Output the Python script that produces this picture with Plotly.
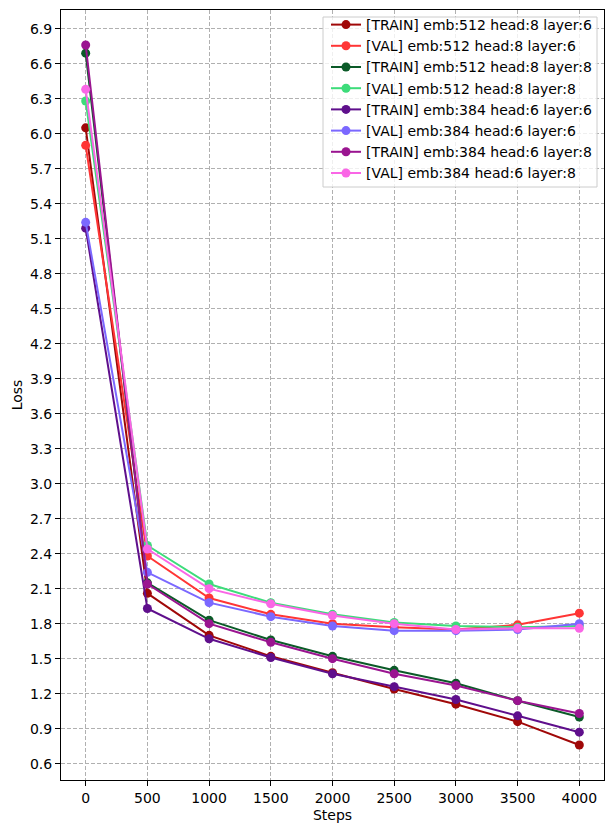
import plotly.graph_objects as go

steps = [0, 500, 1000, 1500, 2000, 2500, 3000, 3500, 4000]

names = [
    "[TRAIN] emb:512 head:8 layer:6",
    "[VAL] emb:512 head:8 layer:6",
    "[TRAIN] emb:512 head:8 layer:8",
    "[VAL] emb:512 head:8 layer:8",
    "[TRAIN] emb:384 head:6 layer:6",
    "[VAL] emb:384 head:6 layer:6",
    "[TRAIN] emb:384 head:6 layer:8",
    "[VAL] emb:384 head:6 layer:8",
]

train_512_8_6 = [6.05, 2.06, 1.70, 1.52, 1.38, 1.24, 1.11, 0.96, 0.76]
val_512_8_6 = [5.90, 2.38, 2.02, 1.88, 1.80, 1.77, 1.75, 1.79, 1.89]
train_512_8_8 = [6.69, 2.15, 1.83, 1.66, 1.52, 1.40, 1.29, 1.14, 1.00]
val_512_8_8 = [6.28, 2.47, 2.14, 1.98, 1.88, 1.81, 1.78, 1.77, 1.78]
train_384_6_6 = [5.19, 1.93, 1.67, 1.51, 1.37, 1.26, 1.15, 1.01, 0.87]
val_384_6_6 = [5.24, 2.24, 1.98, 1.86, 1.78, 1.74, 1.74, 1.75, 1.80]
train_384_6_8 = [6.76, 2.14, 1.80, 1.64, 1.50, 1.37, 1.27, 1.14, 1.03]
val_384_6_8 = [6.38, 2.44, 2.10, 1.97, 1.87, 1.80, 1.75, 1.76, 1.76]

series = [train_512_8_6, val_512_8_6, train_512_8_8, val_512_8_8,
          train_384_6_6, val_384_6_6, train_384_6_8, val_384_6_8]

colors = ["#a00808", "#ff3535", "#0b5a28", "#3ddc7a",
          "#5f0f8c", "#7b68ff", "#9a1490", "#fa66e6"]

fig = go.Figure()
for name, ys, c in zip(names, series, colors):
    fig.add_trace(go.Scatter(
        x=steps, y=ys, name=name, mode="lines+markers",
        line=dict(color=c, width=2),
        marker=dict(color=c, size=9),
    ))

font = dict(family="DejaVu Sans", size=14, color="black")
axis_common = dict(
    showline=True, linecolor="black", linewidth=1, mirror=True,
    ticks="outside", ticklen=5, tickcolor="black", tickwidth=1,
    showgrid=True, gridcolor="#b0b0b0", griddash="4px,2px", gridwidth=1,
    zeroline=False, tickfont=font, automargin=False,
)

# plot area: x 61..604, y 10..780 px
fig.update_layout(
    width=613, height=833,
    margin=dict(l=61, r=9, t=10, b=53, autoexpand=False),
    paper_bgcolor="white", plot_bgcolor="white",
    font=font,
    xaxis=dict(range=[-200, 4200], tick0=0, dtick=500, tickmode="linear",
               title=dict(text="Steps", font=font, standoff=5), **axis_common),
    yaxis=dict(range=[0.46, 7.06], tick0=0.6, dtick=0.3, tickmode="linear",
               tickformat=".1f",
               title=dict(text="Loss", font=font, standoff=4), **axis_common),
    legend=dict(
        x=(326 - 61) / 543, y=1 - (9 - 10) / 770, xanchor="left", yanchor="top",
        bgcolor="rgba(0,0,0,0)", borderwidth=0,
        font=font, itemwidth=30, tracegroupgap=0,
    ),
    shapes=[dict(
        type="rect", xref="paper", yref="paper", layer="above",
        x0=(323 - 61) / 543, x1=(597 - 61) / 543,
        y0=1 - (187 - 10) / 770, y1=1 - (17 - 10) / 770,
        line=dict(color="#cccccc", width=1),
        fillcolor="rgba(255,255,255,0.8)",
    )],
)

fig.write_html(
    "out.html",
    config={"displayModeBar": False},
    post_script="document.body.style.margin='0';document.body.style.overflow='hidden';",
)
